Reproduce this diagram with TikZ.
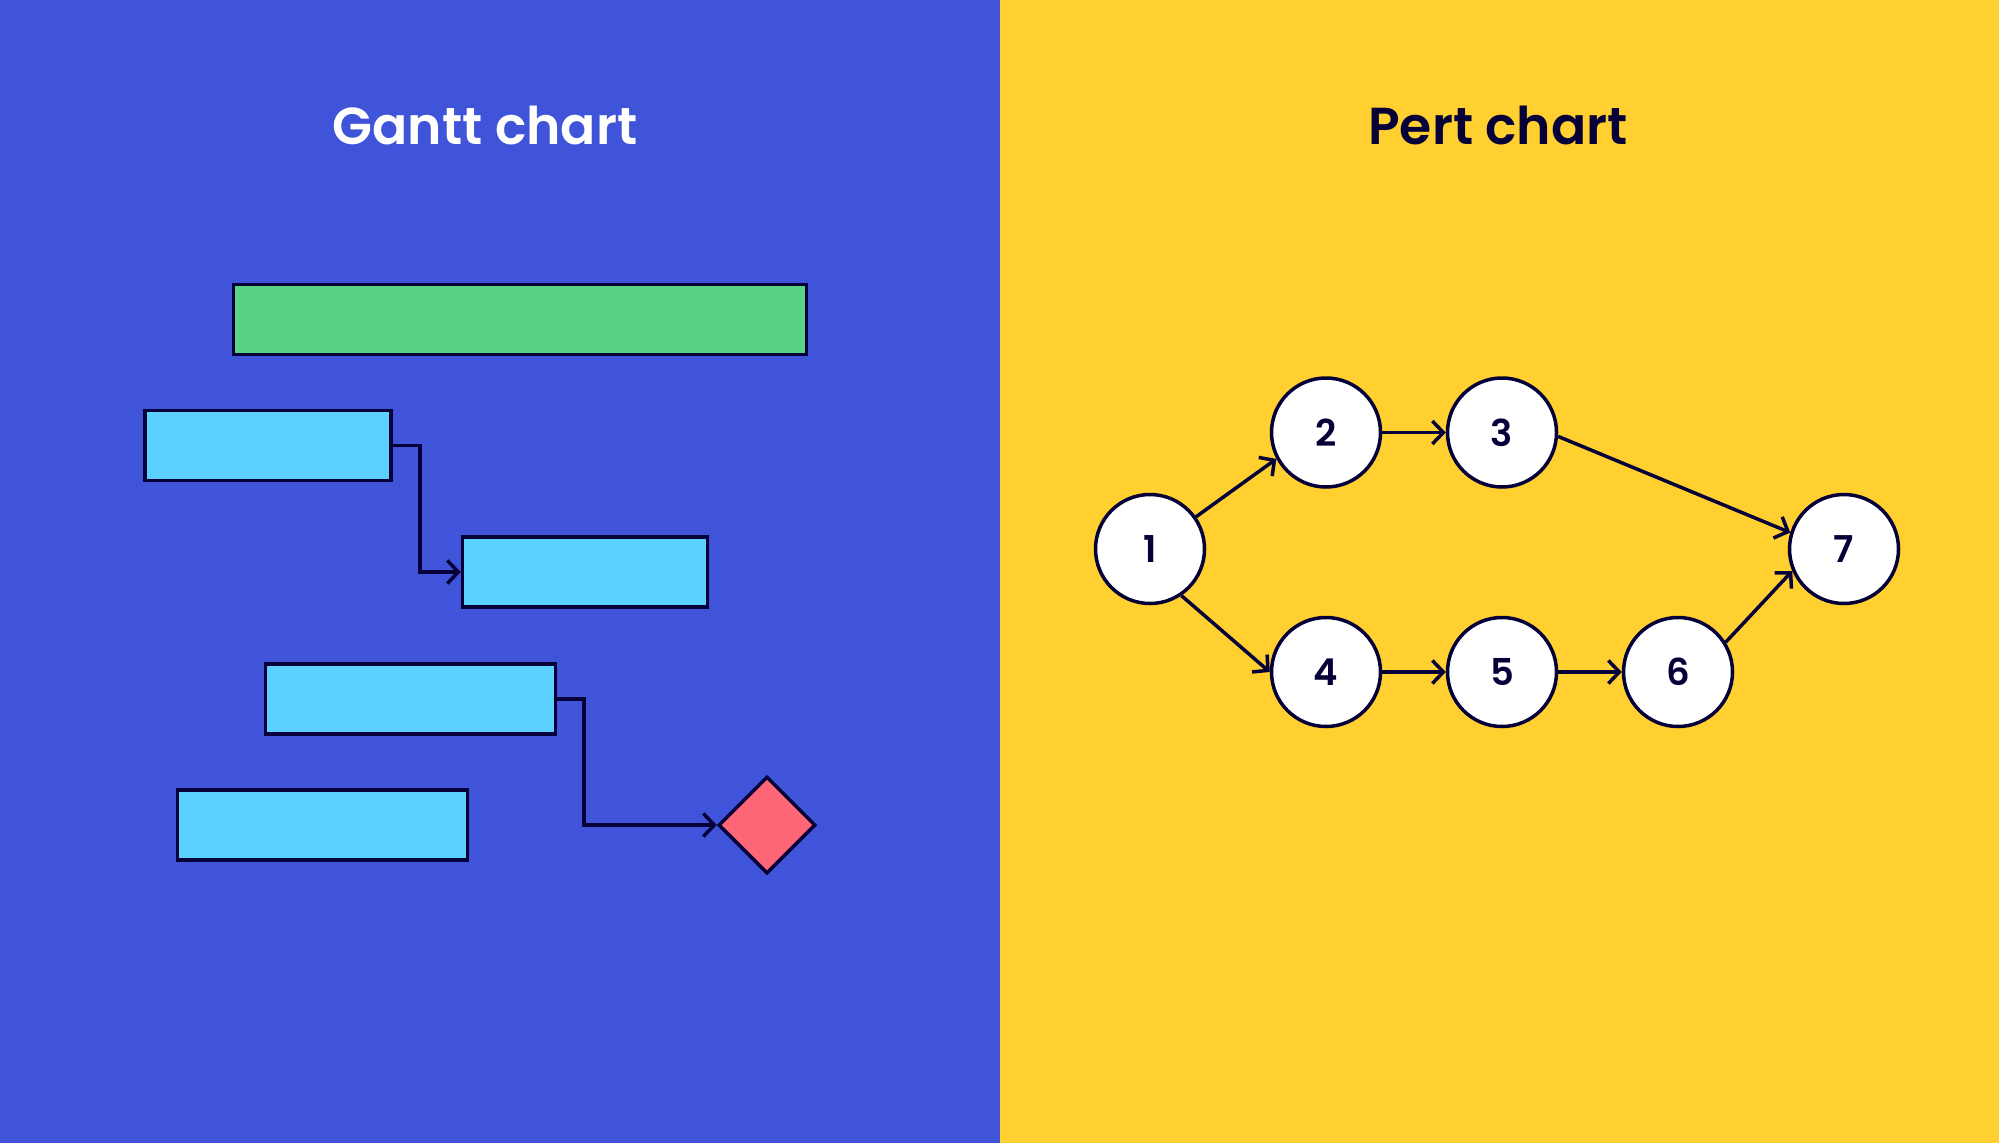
\documentclass[tikz,border=0pt]{standalone}
\usepackage{fontspec}
\setmainfont{Poppins}[BoldFont={Poppins SemiBold}]
\usepackage{tikz}
\usetikzlibrary{shapes.geometric,arrows.meta}
\definecolor{bgblue}{HTML}{3F54D9}
\definecolor{bgyellow}{HTML}{FFD02F}
\definecolor{bargreen}{HTML}{58D384}
\definecolor{barblue}{HTML}{5BD0FF}
\definecolor{milered}{HTML}{FF6676}
\definecolor{ink}{HTML}{050038}
\tikzstyle{charts}=[
  x=1pt,y=-1pt,line width=3.5pt,>={Straight Barb[length=11pt,width=23pt]}
]
\tikzstyle{title}=[
  anchor=base,font=\fontsize{52}{62}\selectfont\bfseries
]
\tikzstyle{ganttbar}=[
  draw=ink,rectangle,inner sep=0pt,minimum height=70pt,fill=barblue
]
\tikzstyle{milestone}=[
  draw=ink,diamond,aspect=1,inner sep=0pt,minimum size=97pt,fill=milered
]
\tikzstyle{pertnode}=[
  draw=ink,circle,inner sep=0pt,minimum size=109pt,fill=white,text=ink,
  font=\fontsize{37}{40}\selectfont\bfseries
]
\tikzstyle{pertedge}=[
  ->,draw=ink
]

\begin{document}
\begin{tikzpicture}[charts]
    \useasboundingbox (0,0) rectangle (1999,1143);
    \fill [bgblue] (0,0) rectangle (1000,1143);
    \fill [bgyellow] (1000,0) rectangle (1999,1143);
    \node (gtitle) at (485,144) [title,text=white] {Gantt chart};
    \node (ptitle) at (1498,144) [title,text=ink] {Pert chart};
    % gantt
    \node (g0) at (520,319.5) [ganttbar,fill=bargreen,minimum width=573pt] {};
    \node (g1) at (268,445.5) [ganttbar,minimum width=246pt] {};
    \node (g2) at (585,572) [ganttbar,minimum width=245pt] {};
    \node (g3) at (410.4,699) [ganttbar,minimum width=290pt] {};
    \node (g4) at (322.5,825) [ganttbar,minimum width=290pt] {};
    \node (m) at (767,825) [milestone] {};
    \draw [pertedge] (g1.east) -- ++(27,0) |- (g2.west);
    \draw [pertedge] (g3.east) -- ++(27,0) |- (m.west);
    % pert
    \node (p1) at (1150,549) [pertnode] {1};
    \node (p2) at (1326,432.5) [pertnode] {2};
    \node (p3) at (1502,432.5) [pertnode] {3};
    \node (p4) at (1326,672) [pertnode] {4};
    \node (p5) at (1502,672) [pertnode] {5};
    \node (p6) at (1678,672) [pertnode] {6};
    \node (p7) at (1844,549) [pertnode] {7};
    \draw [pertedge] (p1.35) -- (p2.-152);
    \draw [pertedge] (p1.-56) -- (p4.180);
    \draw [pertedge] (p2) -- (p3);
    \draw [pertedge] (p4) -- (p5);
    \draw [pertedge] (p5) -- (p6);
    \draw [pertedge] (p3.-4) -- (p7.163);
    \draw [pertedge] (p6.32) -- (p7.-157);
\end{tikzpicture}
\end{document}
